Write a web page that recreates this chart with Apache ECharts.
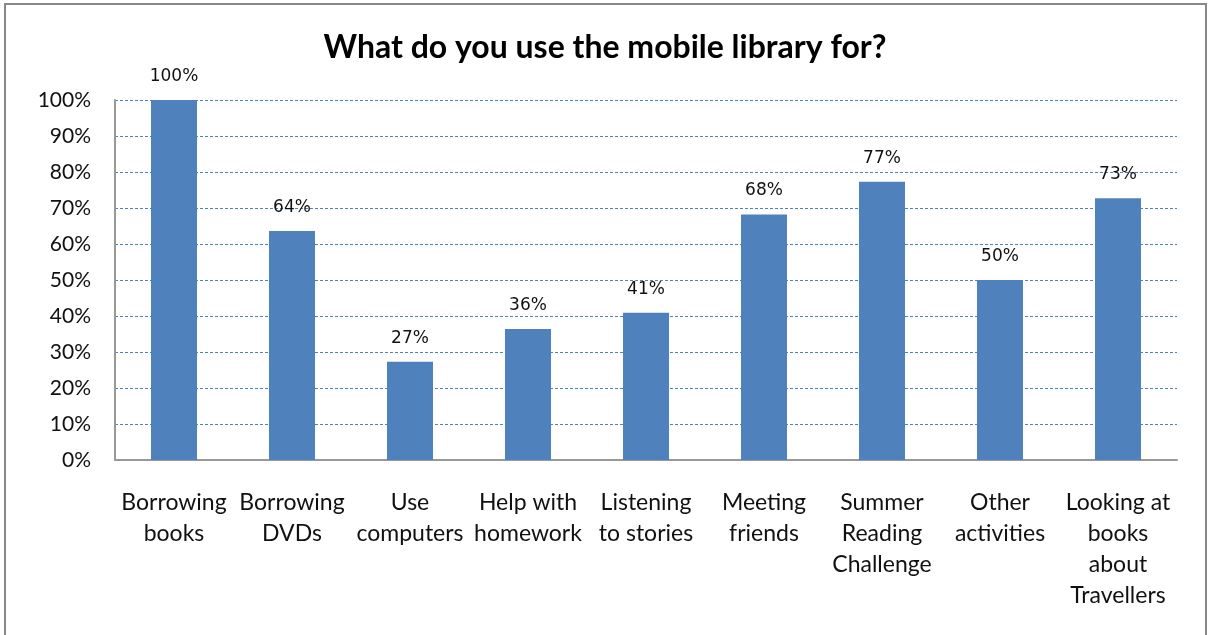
<!DOCTYPE html>
<html><head><meta charset="utf-8">
<script src="https://cdn.jsdelivr.net/npm/echarts@6/dist/echarts.min.js"></script>
<style>html,body{margin:0;padding:0;background:#fff}#c{width:1210px;height:635px}</style>
</head><body><div id="c"></div>
<script>
const categories = ["Borrowing\nbooks","Borrowing\nDVDs","Use\ncomputers","Help with\nhomework","Listening\nto stories","Meeting\nfriends","Summer\nReading\nChallenge","Other\nactivities","Looking at\nbooks\nabout\nTravellers"];
const values = [100, 63.6, 27.3, 36.4, 40.9, 68.2, 77.3, 50, 72.7];
const yTicks = [0,10,20,30,40,50,60,70,80,90,100];

const chart = echarts.init(document.getElementById('c'));
chart.setOption({
  animation:false,
  title:{text:"What do you use the mobile library for?",left:'center',top:27,
    textStyle:{fontFamily:'Lato',fontSize:32,fontWeight:'bold',color:'#000'}},
  graphic:[{type:'rect',shape:{x:5,y:4,width:1201,height:640},style:{fill:'none',stroke:'#888',lineWidth:2}}],
  grid:{left:115,right:33,top:100,bottom:175,containLabel:false},
  xAxis:{type:'category',data:categories,
    axisLine:{lineStyle:{color:'#999',width:2}},axisTick:{show:false},
    axisLabel:{interval:0,fontFamily:'Lato',fontSize:23,color:'#111',lineHeight:31,margin:27}},
  yAxis:{type:'value',min:0,max:100,interval:10,
    axisLine:{show:true,lineStyle:{color:'#999',width:2}},axisTick:{show:false},
    axisLabel:{formatter:v=>yTicks.includes(v)?v+'%':'',fontFamily:'Lato',fontSize:21,color:'#111',margin:24}},
  series:[{type:'bar',data:values,barWidth:'39%',itemStyle:{color:'#4F81BD'},
    label:{show:true,position:'top',distance:15,formatter:p=>Math.round(p.value)+'%',
      fontFamily:'DejaVu Sans',fontSize:17,color:'#111'}}]
});
chart.setOption({yAxis:{splitLine:{lineStyle:{color:'#4F81BD',type:[3,2],width:1}}}});
</script></body></html>
